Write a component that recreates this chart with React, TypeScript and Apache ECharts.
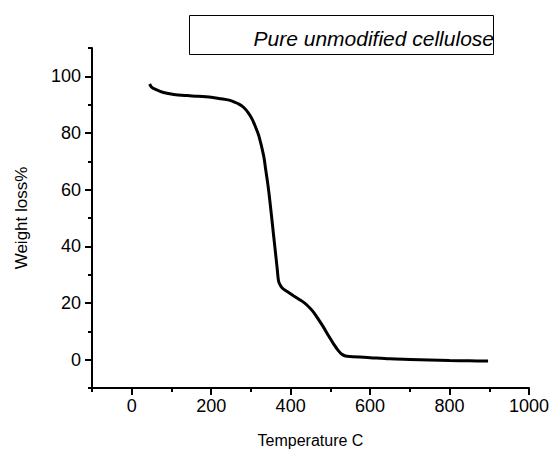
import React, { useEffect, useRef } from "react";
import * as echarts from "echarts";

const temperatures = [45, 50, 60, 80, 106, 140, 165, 200, 224, 245, 257, 270, 282, 293, 303, 312, 320, 332, 337, 343, 348, 357, 366, 370, 376, 383, 395, 408, 420, 433, 446, 458, 470, 483, 495, 508, 520, 529, 538, 550, 600, 650, 700, 750, 800, 850, 897];
const weightLoss = [97.3, 96.2, 95.4, 94.3, 93.6, 93.2, 93.0, 92.6, 92.1, 91.6, 91.0, 90.2, 89.0, 87.2, 84.9, 82.0, 79.0, 72.0, 67.3, 61.5, 55.7, 44.0, 32.4, 27.5, 25.8, 24.8, 23.7, 22.5, 21.4, 20.2, 18.6, 16.7, 14.2, 11.4, 8.5, 5.6, 3.2, 1.9, 1.3, 1.1, 0.7, 0.3, 0.1, -0.1, -0.3, -0.4, -0.5];

const xMajorTicks = [0, 200, 400, 600, 800, 1000];
const xMinorTicks = [-100, 100, 300, 500, 700, 900];
const yMajorTicks = [0, 20, 40, 60, 80, 100];
const yMinorTicks = [-10, 10, 30, 50, 70, 90, 110];

const seriesName = "Pure unmodified cellulose";
const xTitle = "Temperature C";
const yTitle = "Weight loss%";

const FONT = '"Liberation Sans", Arial, sans-serif';

export default function App() {
  const ref = useRef<HTMLDivElement>(null);
  useEffect(() => {
    document.body.style.margin = "0";
    if (!ref.current) return;
    const chart = echarts.init(ref.current, null, { renderer: "svg" });
    const axisLine = { show: true, onZero: false, lineStyle: { color: "#000", width: 2 } };
    const fmt = (v: number) => String(v);
    chart.setOption({
      animation: false,
      backgroundColor: "#fff",
      textStyle: { fontFamily: FONT },
      grid: { left: 92, top: 48, right: 24, bottom: 61, containLabel: false },
      xAxis: [
        {
          type: "value",
          min: -100,
          max: 1000,
          name: xTitle,
          nameLocation: "middle",
          nameGap: 44,
          nameTextStyle: { color: "#000", fontSize: 16, fontFamily: FONT },
          axisLine,
          axisTick: { show: true, inside: false, length: 7, customValues: xMajorTicks, lineStyle: { color: "#000", width: 2 } },
          axisLabel: { show: true, customValues: xMajorTicks, formatter: fmt, color: "#000", fontSize: 18, margin: 9, fontFamily: FONT },
          splitLine: { show: false },
        },
        {
          type: "value",
          min: -100,
          max: 1000,
          position: "bottom",
          axisLine: { show: false, onZero: false },
          axisTick: { show: true, inside: false, length: 4, customValues: xMinorTicks, lineStyle: { color: "#000", width: 2 } },
          axisLabel: { show: false },
          splitLine: { show: false },
        },
      ],
      yAxis: [
        {
          type: "value",
          min: -10,
          max: 110,
          name: yTitle,
          nameLocation: "middle",
          nameGap: 62,
          nameTextStyle: { color: "#000", fontSize: 17, fontFamily: FONT },
          axisLine,
          axisTick: { show: true, inside: false, length: 7, customValues: yMajorTicks, lineStyle: { color: "#000", width: 2 } },
          axisLabel: { show: true, customValues: yMajorTicks, formatter: fmt, color: "#000", fontSize: 18, margin: 11, fontFamily: FONT },
          splitLine: { show: false },
        },
        {
          type: "value",
          min: -10,
          max: 110,
          position: "left",
          axisLine: { show: false, onZero: false },
          axisTick: { show: true, inside: false, length: 4, customValues: yMinorTicks, lineStyle: { color: "#000", width: 2 } },
          axisLabel: { show: false },
          splitLine: { show: false },
        },
      ],
      series: [
        {
          name: seriesName,
          type: "line",
          xAxisIndex: 0,
          yAxisIndex: 0,
          data: temperatures.map((t, i) => [t, weightLoss[i]]),
          showSymbol: false,
          smooth: 0.3,
          lineStyle: { color: "#000", width: 3 },
        },
      ],
      graphic: [
        {
          type: "rect",
          left: 189,
          top: 15,
          shape: { width: 304, height: 39 },
          style: { fill: "#fff", stroke: "#000", lineWidth: 1 },
          z: 10,
        },
        {
          type: "text",
          x: 494,
          y: 38,
          style: {
            text: seriesName,
            fill: "#000",
            font: `italic 21px ${FONT}`,
            align: "right",
            verticalAlign: "middle",
          },
          z: 11,
        },
      ],
    });
    return () => chart.dispose();
  }, []);
  return <div ref={ref} style={{ width: 553, height: 453 }} />;
}
